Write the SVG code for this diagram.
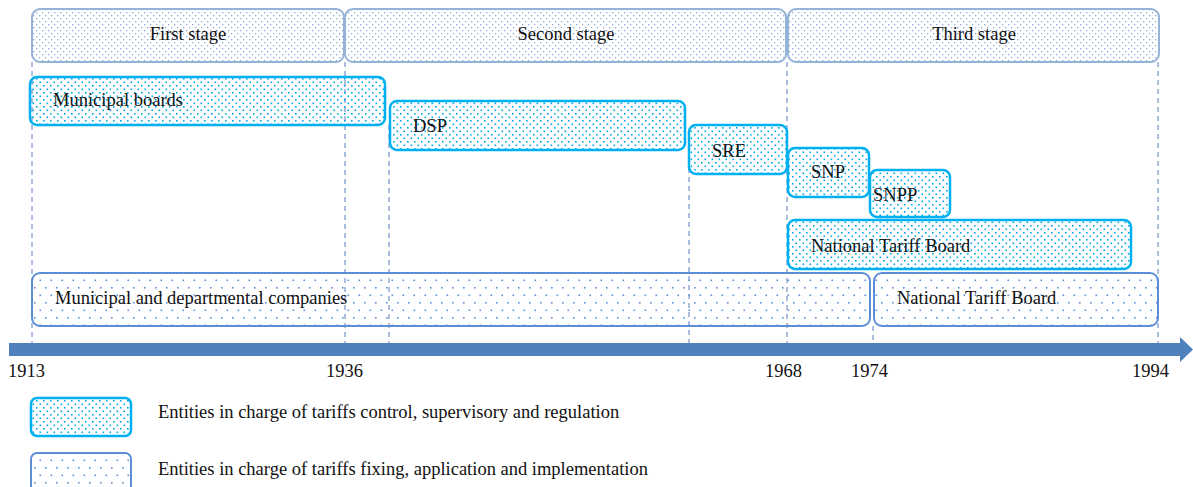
<svg xmlns="http://www.w3.org/2000/svg" width="1193" height="487" viewBox="0 0 1193 487" font-family="'Liberation Serif', 'DejaVu Serif', serif">
  <defs>
    <!-- dotted fills -->
    <pattern id="dotStage" width="6" height="6" patternUnits="userSpaceOnUse">
      <rect x="0" y="0" width="1.3" height="1.3" fill="#8eaad6"/>
      <rect x="3" y="3" width="1.3" height="1.3" fill="#8eaad6"/>
    </pattern>
    <pattern id="dotCyan" width="7" height="7" patternUnits="userSpaceOnUse">
      <rect x="1" y="1" width="1.6" height="1.6" fill="#00a8e8"/>
      <rect x="4.5" y="4.5" width="1.6" height="1.6" fill="#00a8e8"/>
    </pattern>
    <pattern id="dotBlue" width="11" height="15" patternUnits="userSpaceOnUse">
      <rect x="1" y="2" width="1.6" height="1.6" fill="#5b8fd6"/>
      <rect x="6.5" y="9.5" width="1.6" height="1.6" fill="#5b8fd6"/>
    </pattern>
  </defs>
  <style>
    text { font-family: "Liberation Serif", "DejaVu Serif", serif; font-size: 18.5px; fill: #111; }
    .stage { fill: url(#dotStage); stroke: #95b3d7; stroke-width: 2; }
    .ctrl { fill: url(#dotCyan); stroke: #00b0f0; stroke-width: 2.5; }
    .fix { fill: url(#dotBlue); stroke: #5b8ed6; stroke-width: 2; }
    .guide { stroke: #5a7fbf; stroke-width: 1; stroke-dasharray: 5 4; fill: none; }
    .mid { text-anchor: middle; }
  </style>

  <!-- dashed year guides -->
  <g id="guides">
    <line class="guide" x1="32" y1="62" x2="32" y2="346"/>
    <line class="guide" x1="345" y1="62" x2="345" y2="346"/>
    <line class="guide" x1="389" y1="125" x2="389" y2="346"/>
    <line class="guide" x1="689" y1="150" x2="689" y2="346"/>
    <line class="guide" x1="787" y1="62" x2="787" y2="346"/>
    <line class="guide" x1="873" y1="326" x2="873" y2="346"/>
    <line class="guide" x1="1158" y1="62" x2="1158" y2="346"/>
  </g>

  <!-- stage headers -->
  <g id="stage1"><rect class="stage" x="32" y="9" width="312" height="53" rx="8"/><text class="mid" x="188" y="40">First stage</text></g>
  <g id="stage2"><rect class="stage" x="345" y="9" width="441" height="53" rx="8"/><text class="mid" x="566" y="40">Second stage</text></g>
  <g id="stage3"><rect class="stage" x="788" y="9" width="371" height="53" rx="8"/><text class="mid" x="974" y="40">Third stage</text></g>

  <!-- control / supervisory bodies -->
  <g id="municipal-boards"><rect class="ctrl" x="30" y="77" width="355" height="48" rx="7"/><text x="53" y="106">Municipal boards</text></g>
  <g id="dsp"><rect class="ctrl" x="390" y="101" width="295" height="49" rx="7"/><text x="413" y="132">DSP</text></g>
  <g id="sre"><rect class="ctrl" x="689" y="125" width="98" height="49" rx="7"/><text x="712" y="157">SRE</text></g>
  <g id="snp"><rect class="ctrl" x="788" y="148" width="81" height="49" rx="7"/><text x="811" y="178">SNP</text></g>
  <g id="snpp"><rect class="ctrl" x="870" y="170" width="80" height="47" rx="7"/><text x="873" y="201">SNPP</text></g>
  <g id="ntb-control"><rect class="ctrl" x="788" y="220" width="343" height="49" rx="7"/><text x="811" y="252">National Tariff Board</text></g>

  <!-- tariff-fixing bodies -->
  <g id="companies"><rect class="fix" x="32" y="273" width="838" height="53" rx="8"/><text x="55" y="304">Municipal and departmental companies</text></g>
  <g id="ntb-fixing"><rect class="fix" x="874" y="273" width="284" height="53" rx="8"/><text x="897" y="304">National Tariff Board</text></g>

  <!-- time axis -->
  <g id="axis">
    <polygon points="9,343 1180,343 1180,337 1193,349.5 1180,362 1180,356 9,356" fill="#4f81bd"/>
    <text x="8" y="377">1913</text>
    <text x="326" y="377">1936</text>
    <text x="765" y="377">1968</text>
    <text x="851" y="377">1974</text>
    <text x="1132" y="377">1994</text>
  </g>

  <!-- legend -->
  <g id="legend-control"><rect class="ctrl" x="31" y="398" width="100" height="38" rx="6"/><text x="158" y="418">Entities in charge of tariffs control, supervisory and regulation</text></g>
  <g id="legend-fixing"><rect class="fix" x="31" y="453" width="100" height="40" rx="6"/><text x="158" y="475">Entities in charge of tariffs fixing, application and implementation</text></g>
</svg>
